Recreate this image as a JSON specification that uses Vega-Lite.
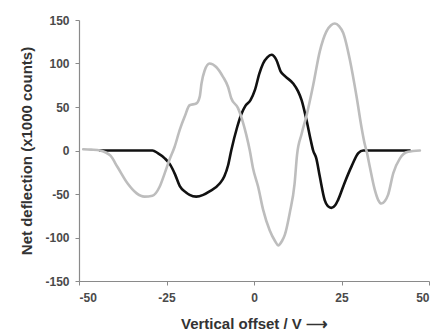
{
  "$schema": "https://vega.github.io/schema/vega-lite/v6.json",
  "width": 350,
  "height": 261,
  "autosize": "none",
  "padding": {"left": 79, "top": 20, "right": 9, "bottom": 55},
  "background": "white",
  "config": {
    "view": {"stroke": null},
    "axis": {
      "grid": false,
      "domainColor": "#8a8a8a",
      "tickColor": "#8a8a8a",
      "domainWidth": 1.2,
      "tickSize": 4,
      "labelFont": "Liberation Sans",
      "labelFontWeight": "bold",
      "labelFontSize": 12,
      "labelColor": "#4a4a4a",
      "titleFont": "Liberation Sans",
      "titleFontWeight": "bold",
      "titleFontSize": 15,
      "titleColor": "#333333"
    }
  },
  "datasets": {
    "curves": [
      {"series": "black", "v": -44, "y": 0},
      {"series": "black", "v": -29, "y": 0},
      {"series": "black", "v": -27.5, "y": -3},
      {"series": "black", "v": -25.5, "y": -9},
      {"series": "black", "v": -24, "y": -16},
      {"series": "black", "v": -22.5, "y": -28},
      {"series": "black", "v": -21.2, "y": -41},
      {"series": "black", "v": -19.5, "y": -48},
      {"series": "black", "v": -18.4, "y": -51},
      {"series": "black", "v": -16.5, "y": -53},
      {"series": "black", "v": -14.5, "y": -51},
      {"series": "black", "v": -12.7, "y": -47},
      {"series": "black", "v": -9.8, "y": -38},
      {"series": "black", "v": -8.5, "y": -30},
      {"series": "black", "v": -7.4, "y": -17},
      {"series": "black", "v": -6.5, "y": 0},
      {"series": "black", "v": -4.8, "y": 27},
      {"series": "black", "v": -3.6, "y": 42},
      {"series": "black", "v": -2.5, "y": 51},
      {"series": "black", "v": -1.0, "y": 58},
      {"series": "black", "v": 0.3, "y": 70},
      {"series": "black", "v": 1.5, "y": 88},
      {"series": "black", "v": 2.6, "y": 100},
      {"series": "black", "v": 3.8, "y": 107},
      {"series": "black", "v": 5, "y": 110},
      {"series": "black", "v": 6.4, "y": 104},
      {"series": "black", "v": 7.6, "y": 91},
      {"series": "black", "v": 9, "y": 85},
      {"series": "black", "v": 11.2, "y": 77},
      {"series": "black", "v": 12.6, "y": 68},
      {"series": "black", "v": 13.6, "y": 58},
      {"series": "black", "v": 15, "y": 35},
      {"series": "black", "v": 16.2, "y": 12},
      {"series": "black", "v": 16.9, "y": 0},
      {"series": "black", "v": 17.8, "y": -9},
      {"series": "black", "v": 18.8, "y": -30},
      {"series": "black", "v": 20.2, "y": -57},
      {"series": "black", "v": 21.1, "y": -64},
      {"series": "black", "v": 22.1, "y": -66},
      {"series": "black", "v": 23.2, "y": -63},
      {"series": "black", "v": 24, "y": -57},
      {"series": "black", "v": 25.9, "y": -37},
      {"series": "black", "v": 27.9, "y": -18},
      {"series": "black", "v": 29.8, "y": -3},
      {"series": "black", "v": 31.2, "y": 0},
      {"series": "black", "v": 44.5, "y": 0},
      {"series": "gray", "v": -48.8, "y": 1.5},
      {"series": "gray", "v": -46.5, "y": 1},
      {"series": "gray", "v": -44, "y": 0},
      {"series": "gray", "v": -42.5, "y": -2},
      {"series": "gray", "v": -41, "y": -6},
      {"series": "gray", "v": -39, "y": -19},
      {"series": "gray", "v": -36.1, "y": -38},
      {"series": "gray", "v": -33.6, "y": -49},
      {"series": "gray", "v": -31.3, "y": -53},
      {"series": "gray", "v": -29, "y": -52},
      {"series": "gray", "v": -27, "y": -42},
      {"series": "gray", "v": -25.5, "y": -26},
      {"series": "gray", "v": -24.1, "y": -10},
      {"series": "gray", "v": -22.7, "y": 4},
      {"series": "gray", "v": -21.2, "y": 24},
      {"series": "gray", "v": -19.8, "y": 39},
      {"series": "gray", "v": -18.4, "y": 52},
      {"series": "gray", "v": -16.5, "y": 54},
      {"series": "gray", "v": -15.5, "y": 62},
      {"series": "gray", "v": -15, "y": 77},
      {"series": "gray", "v": -14.1, "y": 92},
      {"series": "gray", "v": -12.7, "y": 100},
      {"series": "gray", "v": -10.8, "y": 96},
      {"series": "gray", "v": -8.9, "y": 85},
      {"series": "gray", "v": -7.4, "y": 73},
      {"series": "gray", "v": -6.5, "y": 60},
      {"series": "gray", "v": -4.6, "y": 49},
      {"series": "gray", "v": -3.2, "y": 33},
      {"series": "gray", "v": -2.2, "y": 18},
      {"series": "gray", "v": -1.2, "y": 0},
      {"series": "gray", "v": -0.3, "y": -20},
      {"series": "gray", "v": 1.2, "y": -42},
      {"series": "gray", "v": 2.6, "y": -68},
      {"series": "gray", "v": 4.5, "y": -92},
      {"series": "gray", "v": 6.0, "y": -104},
      {"series": "gray", "v": 6.9, "y": -109},
      {"series": "gray", "v": 8.0, "y": -104},
      {"series": "gray", "v": 8.8, "y": -97},
      {"series": "gray", "v": 10.2, "y": -72},
      {"series": "gray", "v": 11.6, "y": -38},
      {"series": "gray", "v": 12.3, "y": -5},
      {"series": "gray", "v": 13.6, "y": 19},
      {"series": "gray", "v": 15, "y": 40},
      {"series": "gray", "v": 16.9, "y": 75},
      {"series": "gray", "v": 18.8, "y": 114},
      {"series": "gray", "v": 20.7, "y": 137},
      {"series": "gray", "v": 22, "y": 144},
      {"series": "gray", "v": 23.1, "y": 146},
      {"series": "gray", "v": 24.3, "y": 143},
      {"series": "gray", "v": 25.5, "y": 135},
      {"series": "gray", "v": 27.4, "y": 104},
      {"series": "gray", "v": 29.3, "y": 62},
      {"series": "gray", "v": 30.7, "y": 27},
      {"series": "gray", "v": 31.6, "y": 8},
      {"series": "gray", "v": 32.3, "y": -3},
      {"series": "gray", "v": 33.1, "y": -19},
      {"series": "gray", "v": 34.5, "y": -45},
      {"series": "gray", "v": 35.5, "y": -57},
      {"series": "gray", "v": 36.4, "y": -61},
      {"series": "gray", "v": 37.4, "y": -58},
      {"series": "gray", "v": 38.3, "y": -51},
      {"series": "gray", "v": 39.8, "y": -26},
      {"series": "gray", "v": 41.7, "y": -9},
      {"series": "gray", "v": 44, "y": -1.5},
      {"series": "gray", "v": 47.4, "y": 0}
    ]
  },
  "layer": [
    {
      "mark": {"type": "rule", "strokeDash": [2, 2], "color": "#333333", "strokeWidth": 1},
      "encoding": {"y": {"datum": 0, "type": "quantitative", "scale": {"domain": [-150, 150]}}}
    },
    {
      "data": {"name": "curves"},
      "mark": {"type": "line", "strokeWidth": 2.6, "interpolate": "monotone", "strokeJoin": "round", "strokeCap": "round"},
      "encoding": {
        "x": {
          "field": "v",
          "type": "quantitative",
          "scale": {"domain": [-50, 50], "nice": false},
          "axis": {"values": [-50, -25, 0, 25, 50], "labelExpr": "'' + datum.value", "title": "Vertical offset / V  \u27f6", "titlePadding": 13, "labelPadding": 7}
        },
        "y": {
          "field": "y",
          "type": "quantitative",
          "scale": {"domain": [-150, 150], "nice": false},
          "axis": {"values": [-150, -100, -50, 0, 50, 100, 150], "labelExpr": "'' + datum.value", "title": "Net deflection (x1000 counts)", "titlePadding": 10, "labelPadding": 6}
        },
        "color": {
          "field": "series",
          "type": "nominal",
          "scale": {"domain": ["gray", "black"], "range": ["#bdbdbd", "#111111"]},
          "legend": null
        },
        "order": {"field": "v", "type": "quantitative"}
      }
    }
  ]
}
